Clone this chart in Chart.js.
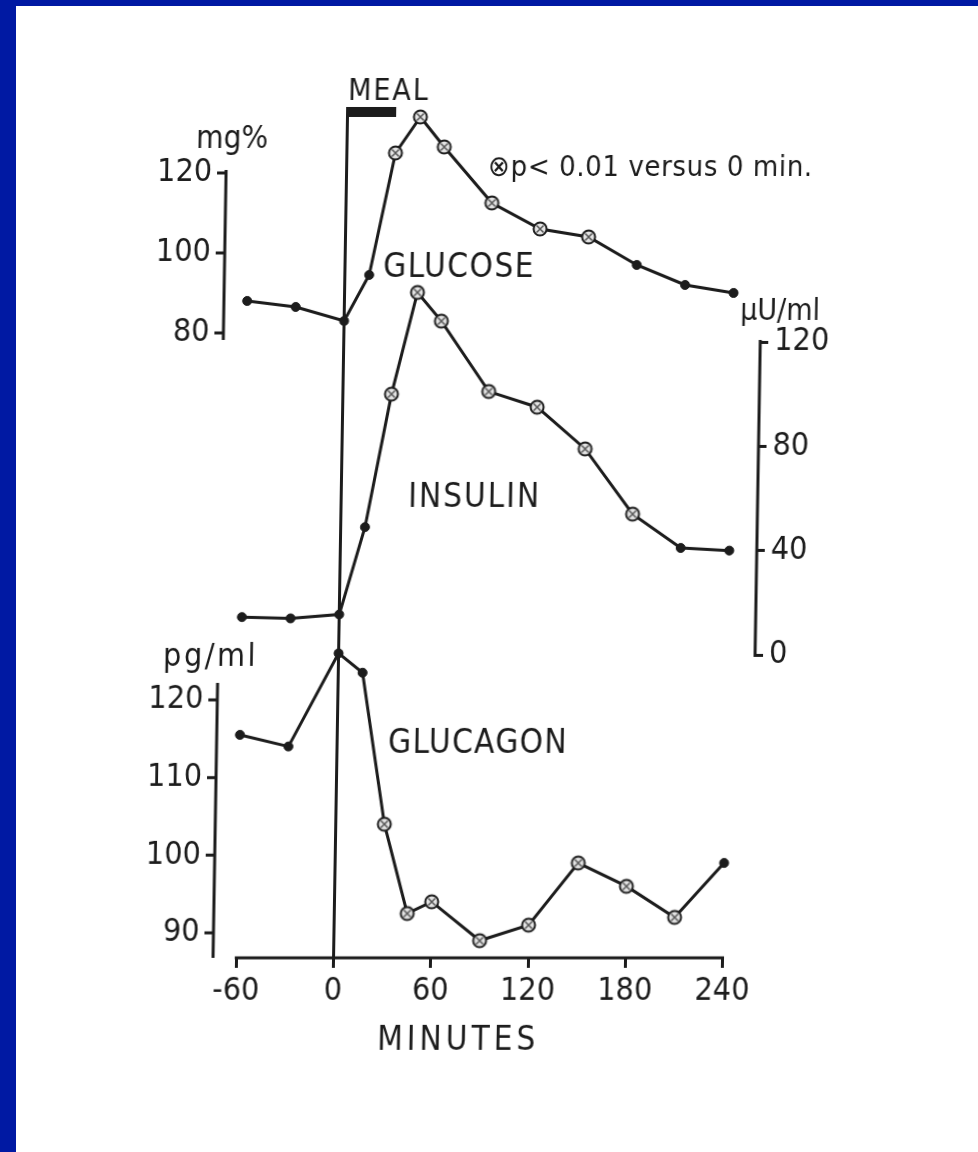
<!DOCTYPE html>
<html>
<head>
<meta charset="utf-8">
<title>Glucose, insulin and glucagon after a meal</title>
<script src="https://cdn.jsdelivr.net/npm/chart.js@4.4.1/dist/chart.umd.min.js"></script>
<style>
  html, body { margin: 0; padding: 0; background: #0019a3; width: 978px; height: 1152px; overflow: hidden; }
  #paper { position: absolute; left: 16px; top: 6px; right: 0; bottom: 0; background: #fff; }
  /* the scanned figure leans slightly: top drifts right */
  #chart { position: absolute; left: 0; top: 0; display: block; transform-origin: 0 900px; transform: skewX(-0.95deg); }
</style>
</head>
<body>
<div id="paper"></div>
<canvas id="chart" width="978" height="1152"></canvas>
<script>
// sampling times, minutes from start of the meal
const minutes = [-60, -30, 0, 15, 30, 45, 60, 90, 120, 150, 180, 210, 240];

const glucose  = [88, 86.5, 83, 94.5, 125, 134, 126.5, 112.5, 106, 104, 97, 92, 90];   // mg%
const insulin  = [14.5, 14, 15.5, 49, 100, 139, 128, 101, 95, 79, 54, 41, 40];        // uU/ml
const glucagon = [115.5, 114, 126, 123.5, 104, 92.5, 94, 89, 91, 99, 96, 92, 99];     // pg/ml

// 1 = p < 0.01 versus 0 min (open marker)
const glucoseSig  = [0, 0, 0, 0, 1, 1, 1, 1, 1, 1, 0, 0, 0];
const insulinSig  = [0, 0, 0, 0, 1, 1, 1, 1, 1, 1, 1, 0, 0];
const glucagonSig = [0, 0, 0, 0, 1, 1, 1, 1, 1, 1, 1, 1, 0];

const mealWindow = [0, 30];

const minuteTicks   = [-60, 0, 60, 120, 180, 240];
const glucoseTicks  = [80, 100, 120];
const insulinTicks  = [0, 40, 80, 120];
const glucagonTicks = [90, 100, 110, 120];

// ---- layout ----
const W = 978, H = 1152;
const SKEW = Math.tan(0.95 * Math.PI / 180), SKEW_Y0 = 900;   // matches the css transform
const toCanvasX = (px, py) => px - (SKEW_Y0 - py) * SKEW;

const AREA = { left: 150, top: 60, right: 751, bottom: 958 };
const X_AXIS_H = 120, Y_AXIS_W = 80;
const LEFT_AXIS_X = 214;    // left axis lines (canvas px)
const LEFT_LABEL_X = 200;   // right edge of their tick labels
const LEFT_TICK = 9;
const INK = '#1c1c1c';
const FONT = "'DejaVu Sans Condensed', 'DejaVu Sans', sans-serif";

// linear map from two pixel anchors, gives the scale range for the chart area
function calib(p1, v1, p2, v2, lo, hi) {
  const k = (v2 - v1) / (p2 - p1);
  const at = p => v1 + (p - p1) * k;
  return { min: at(lo), max: at(hi), at };
}
const xCal   = calib(334.5, 0, 723.5, 240, AREA.left, AREA.right);
const gluCal = calib(333, 80, 173, 120, AREA.bottom, AREA.top);
const insCal = calib(655, 0, 342, 120, AREA.bottom, AREA.top);
const gcgCal = calib(933, 90, 700, 120, AREA.bottom, AREA.top);

// open "circle with cross" marker for significant points
function makeOpenMark() {
  const c = document.createElement('canvas');
  c.width = 18; c.height = 18;
  const g = c.getContext('2d');
  g.beginPath();
  g.arc(9, 9, 6.5, 0, Math.PI * 2);
  g.fillStyle = '#e4e4e4';
  g.fill();
  g.strokeStyle = '#555';
  g.lineWidth = 1.5;
  g.beginPath();
  g.moveTo(5.5, 5.5); g.lineTo(12.5, 12.5);
  g.moveTo(12.5, 5.5); g.lineTo(5.5, 12.5);
  g.stroke();
  g.beginPath();
  g.arc(9, 9, 6.5, 0, Math.PI * 2);
  g.strokeStyle = INK;
  g.lineWidth = 2;
  g.stroke();
  return c;
}
const openMark = makeOpenMark();

function series(values, sig, yAxisID) {
  return {
    data: minutes.map((m, i) => ({ x: m, y: values[i] })),
    yAxisID,
    borderColor: INK,
    borderWidth: 3,
    tension: 0,
    pointStyle: sig.map(s => (s ? openMark : 'circle')),
    pointRadius: 4.5,
    pointBackgroundColor: INK,
    pointBorderColor: INK,
    pointBorderWidth: 1
  };
}

function tickFont(size) {
  return { family: FONT, size, lineHeight: 1.2 };
}

// left axes: chart.js places the labels; line and tick marks are drawn by the plugin
function leftAxis(cal, ticks) {
  return {
    type: 'linear',
    bounds: 'data',
    min: cal.min,
    max: cal.max,
    position: { x: xCal.at(LEFT_LABEL_X) },
    afterBuildTicks: s => { s.ticks = ticks.map(v => ({ value: v })); },
    grid: { display: false },
    border: { display: false },
    ticks: { font: tickFont(32), color: INK }
  };
}

// free text of the figure, placed where it sits in the original (page pixels)
const texts = [
  { text: 'MEAL', x: 348, y: 100, size: 30, spacing: 2, width: 88 },
  { text: 'mg%', x: 196, y: 148, size: 32, spacing: 0, width: 72 },
  { text: '\u2297p< 0.01 versus 0 min.', x: 488, y: 176, size: 29, spacing: 0.6, width: 326 },
  { text: 'GLUCOSE', x: 383, y: 277, size: 33, spacing: 1.5, width: 154 },
  { text: '\u00b5U/ml', x: 740, y: 320, size: 30, spacing: 0, width: 82 },
  { text: 'INSULIN', x: 408, y: 507, size: 33, spacing: 2, width: 136 },
  { text: 'pg/ml', x: 163, y: 666, size: 32, spacing: 2.5, width: 100 },
  { text: 'GLUCAGON', x: 388, y: 753, size: 33, spacing: 1.4, width: 182 },
  { text: 'MINUTES', x: 377, y: 1050, size: 33, spacing: 4, width: 168 }
];

const figurePlugin = {
  id: 'figure',
  beforeDatasetsDraw(chart) {
    const { ctx, scales } = chart;
    const xs = scales.x;
    ctx.save();
    ctx.strokeStyle = INK;
    ctx.fillStyle = INK;
    ctx.lineWidth = 3;
    ctx.lineCap = 'butt';

    // meal line and bar
    const m0 = xs.getPixelForValue(mealWindow[0]);
    const m1 = xs.getPixelForValue(mealWindow[1]);
    ctx.fillRect(m0 - 1.5, 107, m1 - m0 + 1.5, 10);
    ctx.beginPath();
    ctx.moveTo(m0, 107);
    ctx.lineTo(m0, AREA.bottom);
    ctx.stroke();

    // x axis line over the labelled range
    ctx.beginPath();
    ctx.moveTo(xs.getPixelForValue(minuteTicks[0]) - 1.5, AREA.bottom);
    ctx.lineTo(xs.getPixelForValue(minuteTicks[minuteTicks.length - 1]) + 1.5, AREA.bottom);
    ctx.stroke();

    // y axis lines over the labelled range, left ones with their tick marks
    const vline = (x, scale, ticks, extTop, extBottom) => {
      ctx.beginPath();
      ctx.moveTo(x, scale.getPixelForValue(ticks[ticks.length - 1]) - extTop);
      ctx.lineTo(x, scale.getPixelForValue(ticks[0]) + extBottom);
      ctx.stroke();
    };
    const leftTicks = (scale, ticks) => {
      ctx.beginPath();
      ticks.forEach(v => {
        const y = scale.getPixelForValue(v);
        ctx.moveTo(LEFT_AXIS_X - LEFT_TICK, y);
        ctx.lineTo(LEFT_AXIS_X, y);
      });
      ctx.stroke();
    };
    vline(LEFT_AXIS_X, scales.yGlu, glucoseTicks, 3, 7);
    leftTicks(scales.yGlu, glucoseTicks);
    vline(LEFT_AXIS_X, scales.yGcg, glucagonTicks, 17, 25);
    leftTicks(scales.yGcg, glucagonTicks);
    vline(scales.yIns.left, scales.yIns, insulinTicks, 2, 2);
    ctx.restore();
  },
  afterDraw(chart) {
    const ctx = chart.ctx;
    ctx.save();
    ctx.fillStyle = INK;
    ctx.textBaseline = 'alphabetic';
    ctx.textAlign = 'left';
    texts.forEach(t => {
      ctx.font = t.size + 'px ' + FONT;
      ctx.letterSpacing = t.spacing + 'px';
      ctx.fillText(t.text, toCanvasX(t.x, t.y), t.y, t.width);
    });
    ctx.restore();
  }
};

new Chart(document.getElementById('chart'), {
  type: 'line',
  data: {
    datasets: [
      series(glucose, glucoseSig, 'yGlu'),
      series(insulin, insulinSig, 'yIns'),
      series(glucagon, glucagonSig, 'yGcg')
    ]
  },
  options: {
    responsive: false,
    animation: false,
    layout: {
      padding: {
        left: AREA.left,
        top: AREA.top,
        right: W - AREA.right - Y_AXIS_W,
        bottom: H - AREA.bottom - X_AXIS_H
      }
    },
    plugins: { legend: { display: false }, tooltip: { enabled: false } },
    scales: {
      x: {
        type: 'linear',
        position: 'bottom',
        bounds: 'data',
        min: xCal.min,
        max: xCal.max,
        afterBuildTicks: s => { s.ticks = minuteTicks.map(v => ({ value: v })); },
        afterFit: s => { s.height = X_AXIS_H; },
        grid: { drawOnChartArea: false, drawTicks: true, tickLength: 10, tickWidth: 3, tickColor: INK },
        border: { display: false },
        ticks: { font: tickFont(32), color: INK, padding: 4, maxRotation: 0, autoSkip: false }
      },
      yGlu: leftAxis(gluCal, glucoseTicks),
      yGcg: leftAxis(gcgCal, glucagonTicks),
      yIns: {
        type: 'linear',
        bounds: 'data',
        min: insCal.min,
        max: insCal.max,
        position: 'right',
        afterBuildTicks: s => { s.ticks = insulinTicks.map(v => ({ value: v })); },
        afterFit: s => { s.width = Y_AXIS_W; },
        grid: { drawOnChartArea: false, drawTicks: true, tickLength: 8, tickWidth: 3, tickColor: INK },
        border: { display: false },
        ticks: { font: tickFont(32), color: INK, padding: 6 }
      }
    }
  },
  plugins: [figurePlugin]
});
</script>
</body>
</html>
